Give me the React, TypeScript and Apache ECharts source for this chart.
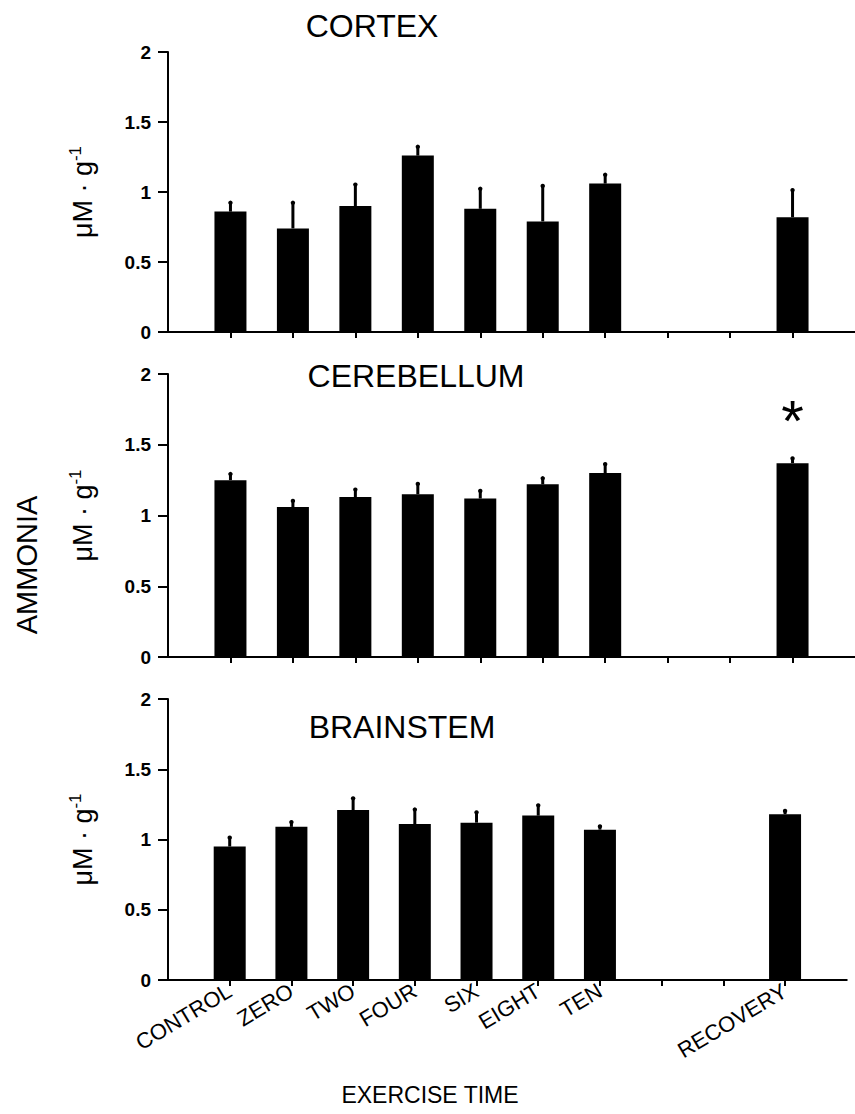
import React, { useEffect, useRef } from "react";
import * as echarts from "echarts";

const categories = ["", "CONTROL", "ZERO", "TWO", "FOUR", "SIX", "EIGHT", "TEN", " ", "  ", "RECOVERY", "   "];
const yTicks = [0, 0.5, 1, 1.5, 2];

const cortexMean = [null, 0.86, 0.74, 0.9, 1.26, 0.88, 0.79, 1.06, null, null, 0.82, null];
const cortexSem = [null, 0.07, 0.19, 0.16, 0.07, 0.15, 0.26, 0.07, null, null, 0.2, null];

const cerebellumMean = [null, 1.25, 1.06, 1.13, 1.15, 1.12, 1.22, 1.3, null, null, 1.37, null];
const cerebellumSem = [null, 0.05, 0.05, 0.06, 0.08, 0.06, 0.05, 0.07, null, null, 0.04, null];

const brainstemMean = [null, 0.95, 1.09, 1.21, 1.11, 1.12, 1.17, 1.07, null, null, 1.18, null];
const brainstemSem = [null, 0.07, 0.04, 0.09, 0.11, 0.08, 0.08, 0.03, null, null, 0.03, null];

const panelTitles = ["CORTEX", "CEREBELLUM", "BRAINSTEM"];
const significant = [[], [10], []];

const FONT = "Liberation Sans";

export default function App() {
  const ref = useRef<HTMLDivElement>(null);
  useEffect(() => {
    if (!ref.current) return;
    const chart = echarts.init(ref.current, undefined, { renderer: "svg" });
    const grids = [
      { left: 168, top: 52, width: 692, height: 280 },
      { left: 168, top: 374, width: 692, height: 283 },
      { left: 168, top: 699, width: 692, height: 281 },
    ];
    const means = [cortexMean, cerebellumMean, brainstemMean];
    const sems = [cortexSem, cerebellumSem, brainstemSem];
    const xAxes = grids.map((_, i) => ({
      type: "category",
      gridIndex: i,
      data: categories,
      boundaryGap: false,
      axisLine: { show: true, lineStyle: { color: "#000", width: 2 } },
      axisTick: {
        show: true,
        length: 6,
        interval: (idx: number) => idx >= 1 && idx <= 10,
        lineStyle: { color: "#000", width: 2 },
      },
      axisLabel: {
        show: i === 2,
        interval: 0,
        rotate: 31,
        margin: 9,
        fontSize: 22,
        fontFamily: FONT,
        color: "#000",
      },
      splitLine: { show: false },
    }));
    const yAxes = grids.map((_, i) => ({
      type: "value",
      gridIndex: i,
      min: yTicks[0],
      max: yTicks[yTicks.length - 1],
      interval: 0.5,
      name: "{a|μM · g}{b|-1}",
      nameLocation: "middle",
      nameGap: 70,
      nameRotate: 90,
      nameTextStyle: {
        fontSize: 27,
        fontFamily: FONT,
        color: "#000",
        rich: {
          a: { fontSize: 27, fontFamily: FONT, color: "#000" },
          b: { fontSize: 17, fontFamily: FONT, color: "#000", verticalAlign: "top", padding: [0, 0, 14, 0] },
        },
      },
      axisLine: { show: true, lineStyle: { color: "#000", width: 2 } },
      axisTick: { show: true, length: 10, lineStyle: { color: "#000", width: 2 } },
      axisLabel: { fontSize: 19, fontWeight: "bold", fontFamily: FONT, color: "#000", margin: 17 },
      splitLine: { show: false },
    }));
    const series: any[] = [];
    grids.forEach((_, i) => {
      series.push({
        type: "bar",
        xAxisIndex: i,
        yAxisIndex: i,
        barWidth: 32,
        itemStyle: { color: "#000" },
        data: means[i].map((v, k) =>
          v === null
            ? "-"
            : significant[i].includes(k)
            ? {
                value: v,
                label: {
                  show: true,
                  position: "top",
                  distance: 14,
                  formatter: "*",
                  fontSize: 58,
                  fontFamily: FONT,
                  color: "#000",
                },
              }
            : v
        ),
      });
      series.push({
        type: "custom",
        xAxisIndex: i,
        yAxisIndex: i,
        z: 3,
        data: means[i]
          .map((v, k) => (v === null ? null : [k, v, sems[i][k] as number]))
          .filter((d) => d !== null),
        renderItem: (params: any, api: any) => {
          const k = api.value(0);
          const v = api.value(1);
          const e = api.value(2);
          const p1 = api.coord([k, v]);
          const p2 = api.coord([k, v + e]);
          return {
            type: "group",
            children: [
              {
                type: "line",
                shape: { x1: p1[0], y1: p1[1], x2: p2[0], y2: p2[1] },
                style: { stroke: "#000", lineWidth: 3 },
              },
              {
                type: "circle",
                shape: { cx: p2[0], cy: p2[1] + 1, r: 2.2 },
                style: { fill: "#000" },
              },
            ],
          };
        },
      });
    });
    const titlePos = [
      [372, 26],
      [416, 376],
      [402, 727],
    ];
    chart.setOption({
      animation: false,
      backgroundColor: "#fff",
      grid: grids,
      xAxis: xAxes,
      yAxis: yAxes,
      series,
      graphic: [
        ...panelTitles.map((t, i) => ({
          type: "text",
          x: titlePos[i][0],
          y: titlePos[i][1],
          style: {
            text: t,
            fontSize: 32,
            fontFamily: FONT,
            fill: "#000",
            textAlign: "center",
            textVerticalAlign: "middle",
          },
        })),
        {
          type: "text",
          x: 27,
          y: 565,
          rotation: Math.PI / 2,
          style: {
            text: "AMMONIA",
            fontSize: 29,
            fontFamily: FONT,
            fill: "#000",
            textAlign: "center",
            textVerticalAlign: "middle",
          },
        },
        {
          type: "text",
          x: 430,
          y: 1095,
          style: {
            text: "EXERCISE TIME",
            fontSize: 23,
            fontFamily: FONT,
            fill: "#000",
            textAlign: "center",
            textVerticalAlign: "middle",
          },
        },
      ],
    });
    return () => chart.dispose();
  }, []);
  return (
    <div
      ref={ref}
      style={{ position: "fixed", left: 0, top: 0, width: 855, height: 1114, background: "#fff" }}
    />
  );
}
